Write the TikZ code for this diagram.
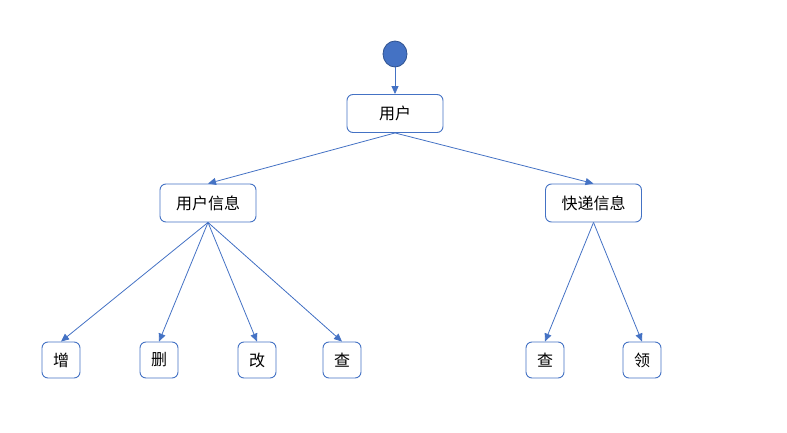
\documentclass[tikz,border=0pt]{standalone}
\usepackage{fontspec}
\newfontfamily\cjk{Noto Sans CJK SC}
\usetikzlibrary{arrows.meta,shapes.geometric}
\definecolor{blu}{HTML}{4472C4}
\definecolor{bludark}{HTML}{2F528F}
\begin{document}
\begin{tikzpicture}[x=1pt,y=-1pt,
  box/.style={draw=blu,line width=0.9pt,rounded corners=6pt,fill=white,inner sep=0pt,font=\cjk\fontsize{16}{18}\selectfont},
  wide/.style={box,minimum width=96pt,minimum height=38pt},
  leaf/.style={box,minimum width=38pt,minimum height=36pt},
  conn/.style={draw=blu,line width=0.8pt,-{Triangle[length=8pt,width=7pt]}}]
\useasboundingbox (0,0) rectangle (787,433);
\node[ellipse,fill=blu,draw=bludark,line width=0.8pt,minimum width=24pt,minimum height=26pt,inner sep=0pt] (start) at (395,54) {};
\node[wide] (user) at (395,113.5) {用户};
\node[wide] (uinfo) at (208,203) {用户信息};
\node[wide] (kinfo) at (593.5,203) {快递信息};
\node[leaf] (zeng) at (61,360) {增};
\node[leaf] (shan) at (159,360) {删};
\node[leaf] (gai) at (257,360) {改};
\node[leaf] (cha1) at (342,360) {查};
\node[leaf] (cha2) at (545,360) {查};
\node[leaf] (ling) at (642,360) {领};
\draw[conn] (start.south) -- (user.north);
\draw[conn] (user.south) -- (uinfo.north);
\draw[conn] (user.south) -- (kinfo.north);
\draw[conn] (uinfo.south) -- (zeng.north);
\draw[conn] (uinfo.south) -- (shan.north);
\draw[conn] (uinfo.south) -- (gai.north);
\draw[conn] (uinfo.south) -- (cha1.north);
\draw[conn] (kinfo.south) -- (cha2.north);
\draw[conn] (kinfo.south) -- (ling.north);
\end{tikzpicture}
\end{document}
